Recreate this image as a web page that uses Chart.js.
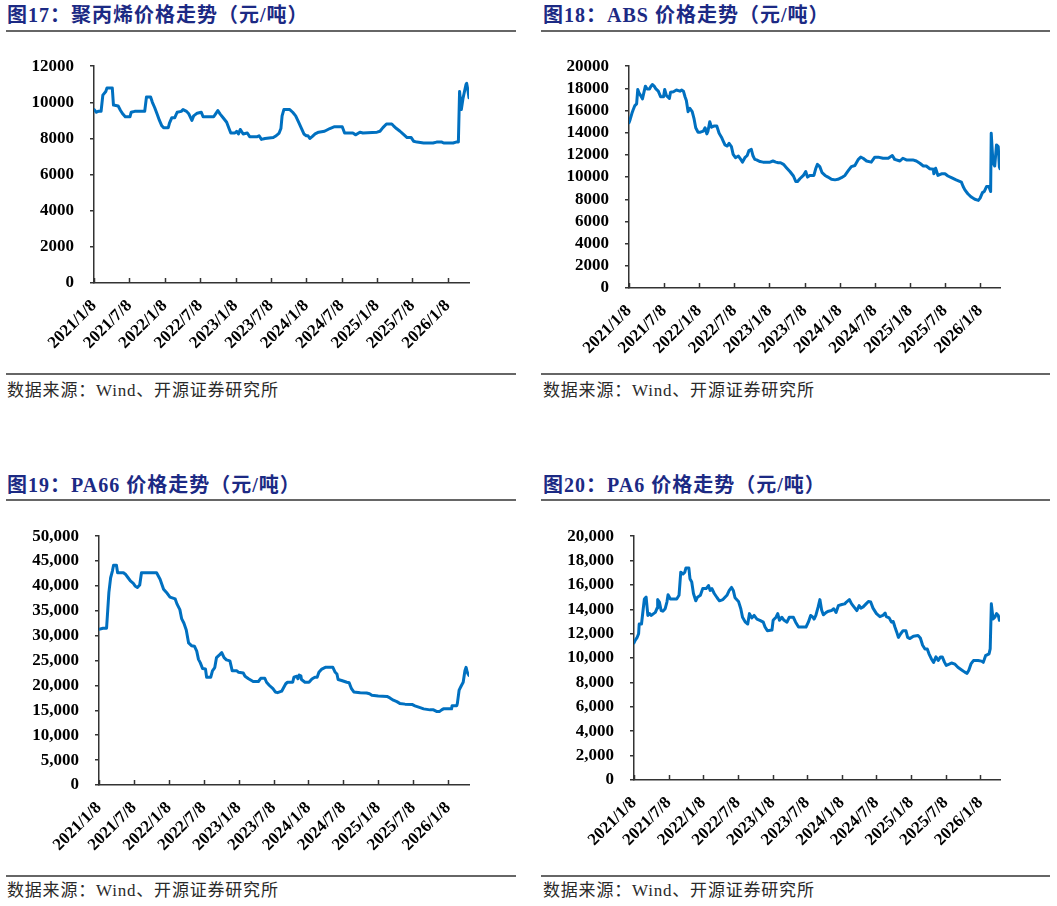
<!DOCTYPE html>
<html>
<head>
<meta charset="utf-8">
<script src="https://cdn.jsdelivr.net/npm/chart.js@4.4.1/dist/chart.umd.min.js"></script>
<style>
  body { margin: 0; background: #fff; width: 1057px; height: 906px; position: relative; overflow: hidden; }
  .title { position: absolute; font: bold 20px 'Liberation Serif', 'Noto Sans CJK SC'; color: #1c2a84; line-height: 20px; letter-spacing: 1px; white-space: nowrap; }
  .rule { position: absolute; height: 2px; background: #666; }
  .src { position: absolute; font: 17px 'Liberation Serif', 'Noto Sans CJK SC'; color: #2a2a2a; line-height: 18px; letter-spacing: 0.8px; white-space: nowrap; }
  canvas { position: absolute; }
</style>
</head>
<body>
<div class="title" style="left:7px;top:5px">图17：聚丙烯价格走势（元/吨）</div>
<div class="rule" style="left:6px;top:30px;width:510px"></div>
<div class="rule" style="left:6px;top:373px;width:510px"></div>
<div class="src" style="left:7px;top:382px">数据来源：Wind、开源证券研究所</div>

<div class="title" style="left:543px;top:5px">图18：ABS 价格走势（元/吨）</div>
<div class="rule" style="left:541px;top:30px;width:509px"></div>
<div class="rule" style="left:541px;top:373px;width:509px"></div>
<div class="src" style="left:543px;top:382px">数据来源：Wind、开源证券研究所</div>

<div class="title" style="left:7px;top:475px">图19：PA66 价格走势（元/吨）</div>
<div class="rule" style="left:6px;top:499px;width:510px"></div>
<div class="rule" style="left:6px;top:875px;width:510px"></div>
<div class="src" style="left:7px;top:882px">数据来源：Wind、开源证券研究所</div>

<div class="title" style="left:543px;top:475px">图20：PA6 价格走势（元/吨）</div>
<div class="rule" style="left:541px;top:499px;width:509px"></div>
<div class="rule" style="left:541px;top:875px;width:509px"></div>
<div class="src" style="left:543px;top:882px">数据来源：Wind、开源证券研究所</div>

<canvas id="ppChart" width="520" height="332" style="left:0;top:40px"></canvas>
<canvas id="absChart" width="527" height="332" style="left:530px;top:40px"></canvas>
<canvas id="pa66Chart" width="520" height="362" style="left:0;top:510px"></canvas>
<canvas id="pa6Chart" width="527" height="362" style="left:530px;top:510px"></canvas>

<script>
// x positions are months after 2021/1/8
const tickLabels = ['2021/1/8', '2021/7/8', '2022/1/8', '2022/7/8', '2023/1/8', '2023/7/8',
                    '2024/1/8', '2024/7/8', '2025/1/8', '2025/7/8', '2026/1/8'];
const tickStep = 6;

// 聚丙烯
const ppMonth = [0,0.4,0.7,1.2,1.5,2.0,2.2,3.1,3.3,4.1,4.5,4.9,5.3,6.1,6.3,6.9,8.6,8.9,9.6,9.9,
  10.3,10.7,11.1,11.5,11.8,12.6,12.8,13.2,13.7,14.1,14.8,15.1,15.7,16.1,16.6,16.9,17.5,18.2,18.5,20.3,
  20.6,21.0,21.4,21.9,22.5,22.9,23.2,23.9,24.2,24.5,24.8,25.3,26.0,26.4,27.7,28.0,28.4,29.0,30.4,30.9,
  31.4,31.7,31.9,32.2,33.2,33.7,34.2,34.7,35.2,35.6,36.0,36.3,36.6,37.0,37.5,38.1,39.1,40.0,40.8,42.1,
  42.5,43.9,44.4,45.1,45.6,48.0,48.5,49.0,49.6,50.5,50.8,51.3,51.9,52.4,53.1,53.8,54.2,54.8,55.9,57.5,
  58.1,59.0,59.3,60.9,61.4,61.8,62.0,62.3,62.6,63.1,63.2,63.4,63.6];
const ppValue = [9600,9450,9500,9500,10400,10600,10800,10800,9850,9800,9550,9350,9200,9200,9450,9500,9500,10300,10300,10000,
  9700,9350,9000,8700,8600,8600,8850,9150,9150,9450,9500,9600,9500,9350,9000,9250,9400,9450,9200,9200,
  9350,9550,9350,9150,8900,8550,8300,8300,8400,8250,8500,8250,8300,8100,8100,8150,7950,8000,8050,8150,
  8300,8550,9250,9600,9600,9450,9250,8900,8550,8250,8150,8150,8000,8100,8250,8350,8400,8550,8650,8650,
  8300,8300,8200,8350,8300,8350,8400,8600,8800,8800,8700,8550,8400,8250,8050,8050,7850,7800,7750,7750,
  7800,7800,7750,7750,7800,7800,10600,9600,10250,11000,11050,10700,10250];

// ABS
const absMonth = [0,0.2,0.5,0.7,1.0,1.3,1.5,1.7,2.0,2.3,2.6,2.8,3.1,3.5,3.7,4.0,4.3,4.6,5.0,5.4,
  5.9,6.1,6.4,6.9,7.1,7.6,8.1,8.7,9.0,9.3,9.6,9.8,10.1,10.4,10.8,11.1,11.4,11.8,12.2,12.7,
  13.0,13.3,13.5,13.8,14.1,14.5,15.0,15.4,15.8,16.1,16.4,16.8,17.1,17.5,17.8,18.2,18.7,19.1,19.4,19.8,
  20.2,20.5,20.9,21.2,21.5,21.8,22.4,22.9,24.1,24.6,25.1,25.5,25.9,26.4,26.9,27.5,28.1,28.5,28.8,29.2,
  29.8,30.2,30.5,30.9,31.6,31.9,32.2,32.6,33.0,33.5,34.0,34.6,35.2,35.7,36.3,36.9,37.5,38.0,38.6,39.2,
  39.6,40.0,40.6,41.4,42.0,42.6,43.4,44.3,45.0,45.4,46.3,46.8,47.4,48.5,49.1,49.7,50.3,50.8,51.4,52.0,
  52.1,52.4,52.8,53.4,54.0,54.5,55.1,55.9,56.8,57.1,57.4,57.9,58.5,59.1,59.7,60.0,60.4,60.7,61.1,61.5,
  61.8,61.9,62.2,62.5,62.8,63.1,63.3,63.4];
const absValue = [14900,15200,15750,16050,16450,16600,17900,17600,17350,17050,17750,18200,17950,17950,18150,18350,18200,17950,17750,17250,
  17250,17900,17350,17100,17650,17700,17850,17750,17850,17750,17200,16900,15900,16200,15900,15300,14450,14050,14050,14150,
  14450,13900,14150,15000,14500,14600,14600,13950,13600,13250,12900,12800,13050,12750,12050,11750,11900,11600,11350,11750,
  11950,12400,12500,11900,11600,11550,11400,11350,11350,11450,11350,11300,11300,11150,10850,10500,10100,9600,9600,9850,
  10150,10500,10000,10150,10150,10750,11150,10950,10400,10150,10000,9800,9750,9800,9950,10150,10600,10950,11050,11600,
  11800,11700,11450,11350,11800,11800,11700,11700,11950,11600,11450,11700,11550,11550,11450,11250,11000,11000,10750,10700,
  10300,10800,10150,10300,10300,10100,9950,9750,9550,9150,8850,8500,8200,8000,7900,8100,8600,8700,9150,9150,
  8700,13950,11300,11000,12900,12750,10900,10750];

// PA66
const pa66Month = [0,0.7,1.3,1.5,1.7,2.0,2.3,2.5,3.0,3.2,4.2,4.6,5.0,5.4,5.9,6.2,6.6,7.0,7.3,9.9,
  10.5,11.1,11.6,12.2,13.1,13.4,13.9,14.2,14.6,15.0,15.4,15.9,16.4,16.8,17.1,17.4,17.8,18.3,18.5,19.2,
  19.5,19.9,20.2,20.8,21.1,21.5,21.9,22.5,22.9,23.7,24.0,24.8,25.1,25.7,26.5,27.4,27.8,28.5,28.8,29.3,
  29.9,30.3,30.7,31.4,32.1,32.4,33.3,33.5,34.0,34.2,34.4,34.7,34.8,35.4,36.1,36.6,37.1,37.5,37.8,38.3,
  38.9,40.2,40.6,40.9,41.1,41.7,42.6,43.0,43.4,43.8,44.9,46.0,46.5,46.9,48.0,49.5,50.0,50.6,51.2,51.7,
  52.6,53.8,54.3,55.2,55.8,56.9,57.5,58.1,58.5,58.9,59.2,60.6,60.7,61.5,61.6,61.9,62.3,62.6,62.9,63.1,
  63.3,63.45,63.6];
const pa66Value = [31300,31500,31500,35100,38700,41650,43000,44150,44150,42650,42650,42300,41650,41000,40500,40000,39700,40200,42650,42650,
  41350,39350,38700,37750,37400,36400,35250,33450,32500,31150,28550,28000,27900,26900,25250,24600,23400,23300,21650,21650,
  22950,23600,25600,26250,26600,25600,25150,24950,22950,22950,22650,22500,21850,21350,20800,20800,21450,21450,20650,20000,
  19350,18700,18550,18850,20350,20650,20650,21650,21850,21350,22100,21950,21200,20650,20650,21300,21650,21650,22650,23300,
  23650,23650,22650,22300,21200,21000,20650,20550,19350,18700,18550,18500,18350,18050,17900,17800,17500,17050,16750,16400,
  16250,16200,15900,15550,15300,15100,15100,14750,14750,15100,15300,15300,15950,15950,16400,19050,20000,20650,22950,23650,
  22650,22300,22000];

// PA6
const pa6Month = [0,0.2,0.5,0.8,0.9,1.3,1.6,1.8,2.1,2.4,2.7,3.0,3.4,3.7,4.0,4.1,4.4,4.7,5.0,5.4,
  5.7,5.9,6.3,7.4,7.8,8.1,8.5,8.8,9.0,9.5,9.7,10.0,10.3,10.7,11.0,11.5,11.9,12.5,12.9,13.2,
  13.5,13.9,14.4,14.8,15.4,16.1,16.5,16.9,17.2,17.5,18.1,18.5,18.8,19.3,19.7,20.0,20.4,20.8,21.3,21.8,
  22.4,22.7,23.1,23.9,24.1,24.6,24.9,25.2,25.6,26.0,26.5,26.9,27.6,28.0,28.5,29.8,30.2,30.6,31.0,31.2,
  31.5,31.9,32.2,32.5,32.8,33.3,33.7,34.2,34.6,35.0,35.4,36.0,36.5,36.8,37.3,37.7,38.1,38.6,39.0,39.3,
  39.7,40.2,40.6,41.0,41.4,42.0,42.6,43.1,43.5,43.7,44.2,44.6,44.9,45.2,45.5,45.8,46.2,46.6,47.1,47.4,
  47.8,48.4,49.2,49.6,50.0,50.4,50.8,51.1,51.5,51.9,52.3,52.7,53.1,53.4,53.8,54.1,54.6,55.0,55.6,56.1,
  56.7,57.3,57.7,58.0,58.4,58.8,59.6,60.2,60.5,60.9,61.5,61.7,61.9,62.2,62.5,62.8,63.1,63.3];
const pa6Value = [11250,11450,11650,12000,12800,12800,14050,14850,15000,13500,13650,13500,13650,13750,14100,14800,14600,13900,13850,14050,
  14600,15200,14850,14850,15150,17050,16900,17050,17400,17400,16500,16250,15300,14700,15000,15150,15700,15700,15950,15550,
  15700,15300,14950,14700,14800,15150,15550,15800,15550,14950,14650,14050,13350,12950,12800,13650,13300,13500,13200,13100,
  12950,12550,12250,12300,13100,13350,13650,13100,13350,13100,12950,13350,13350,12950,12550,12550,12950,13500,13350,13200,
  13500,14200,14800,13950,13550,13750,13850,13900,14050,13750,14300,14400,14450,14600,14800,14450,14200,13900,14300,14100,
  14200,14450,14650,14600,14100,13650,13400,13500,13700,13400,13300,12950,13000,12550,12150,11700,12000,12250,12250,11700,
  11600,11800,11850,11650,11050,10750,10750,10350,9950,9650,10100,9800,10100,10100,9650,9400,9500,9600,9500,9250,
  9050,8850,8750,9000,9550,9800,9800,9750,9650,10200,10350,10750,14450,13200,13350,13650,13500,13100];

const axisColor = '#333';
const tickFont = { family: 'Liberation Serif', size: 17, weight: 'bold' };

// small inward tick marks on the date axis
const innerTicks = {
  id: 'innerTicks',
  afterDatasetsDraw(chart) {
    const xs = chart.scales.x, ctx = chart.ctx, b = chart.chartArea.bottom;
    ctx.save();
    ctx.strokeStyle = axisColor;
    ctx.lineWidth = 1.5;
    xs.ticks.forEach(t => {
      const px = Math.round(xs.getPixelForValue(t.value)) + 0.5;
      ctx.beginPath();
      ctx.moveTo(px, b);
      ctx.lineTo(px, b - 5);
      ctx.stroke();
    });
    ctx.restore();
  }
};

function drawChart(id, months, values, o) {
  new Chart(document.getElementById(id), {
    type: 'line',
    data: {
      datasets: [{
        data: months.map((m, i) => ({ x: m, y: values[i] })),
        borderColor: '#0070C0',
        borderWidth: 3,
        pointRadius: 0,
        tension: 0,
        borderJoinStyle: 'round',
        borderCapStyle: 'round'
      }]
    },
    options: {
      responsive: false,
      animation: false,
      devicePixelRatio: 1,
      layout: { autoPadding: false, padding: { top: o.padTop, right: o.padRight, left: 0, bottom: 0 } },
      plugins: { legend: { display: false }, tooltip: { enabled: false } },
      scales: {
        x: {
          type: 'linear', min: 0, max: o.xMax,
          afterBuildTicks: s => { s.ticks = tickLabels.map((l, i) => ({ value: i * tickStep })); },
          afterFit: s => { s.height = o.xH; },
          grid: { drawOnChartArea: false, drawTicks: false },
          border: { display: true, color: axisColor, width: 1.5 },
          ticks: {
            autoSkip: false, minRotation: 45, maxRotation: 45, padding: 13,
            color: '#000', font: tickFont,
            callback: (v, i) => tickLabels[i]
          }
        },
        y: {
          min: 0, max: o.yMax,
          afterFit: s => { s.width = o.yW; },
          grid: { drawOnChartArea: false, drawTicks: true, tickLength: 4, color: axisColor, lineWidth: 1.5 },
          border: { display: true, color: axisColor, width: 1.5 },
          ticks: {
            stepSize: o.yStep, autoSkip: false, padding: 16, color: '#000', font: tickFont,
            callback: v => o.comma ? v.toLocaleString('en-US') : String(v)
          }
        }
      }
    },
    plugins: [innerTicks]
  });
}

drawChart('ppChart', ppMonth, ppValue, { xMax: 63.6, yMax: 12000, yStep: 2000, comma: false, padTop: 21, padRight: 51, yW: 94, xH: 89 });
drawChart('absChart', absMonth, absValue, { xMax: 63.4, yMax: 20000, yStep: 2000, comma: false, padTop: 16, padRight: 57, yW: 99, xH: 84 });
drawChart('pa66Chart', pa66Month, pa66Value, { xMax: 63.6, yMax: 50000, yStep: 5000, comma: true, padTop: 21, padRight: 51, yW: 99, xH: 87 });
drawChart('pa6Chart', pa6Month, pa6Value, { xMax: 63.4, yMax: 20000, yStep: 2000, comma: true, padTop: 26, padRight: 57, yW: 104, xH: 92 });
</script>
</body>
</html>
